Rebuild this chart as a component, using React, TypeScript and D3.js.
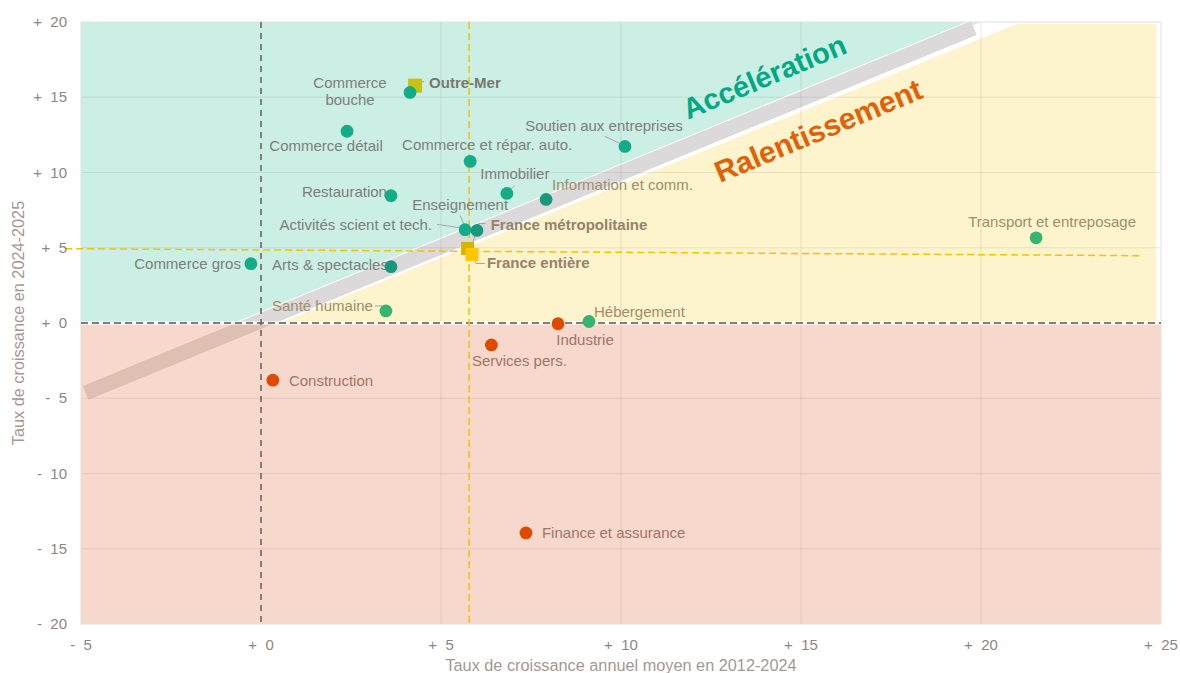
import React from 'react';
import * as d3 from 'd3';

const W = 1180;
const H = 673;

const xTicks = [-5, 0, 5, 10, 15, 20, 25];
const yTicks = [-20, -15, -10, -5, 0, 5, 10, 15, 20];
const xGrid = [5, 10, 15, 20];
const yGrid = [-15, -10, -5, 5, 10, 15];

const sectors = [
  'Commerce bouche', 'Commerce détail', 'Commerce et répar. auto.', 'Soutien aux entreprises',
  'Restauration', 'Immobilier', 'Information et comm.', 'Enseignement',
  'Activités scient et tech.', 'Arts & spectacles', 'Commerce gros', 'Santé humaine',
  'Hébergement', 'Industrie', 'Services pers.', 'Construction',
  'Finance et assurance', 'Transport et entreposage',
];
const growth2012_2024 = [4.14, 2.39, 5.81, 10.11, 3.61, 6.83, 7.92, 5.67, 6.0, 3.61, -0.28, 3.47, 9.11, 8.25, 6.4, 0.33, 7.36, 21.53];
const growth2024_2025 = [15.32, 12.74, 10.74, 11.73, 8.46, 8.61, 8.21, 6.2, 6.15, 3.74, 3.94, 0.8, 0.1, -0.05, -1.46, -3.8, -13.95, 5.66];
const sectorGroup = ['acc', 'acc', 'acc', 'acc', 'acc', 'acc', 'dark', 'acc', 'dark', 'dark', 'acc', 'green', 'green', 'neg', 'neg', 'neg', 'neg', 'green'];

const aggregates = ['Outre-Mer', 'France métropolitaine', 'France entière'];
const aggX = [4.28, 5.74, 5.86];
const aggY = [15.77, 4.95, 4.55];

// reference lines (France entière)
const refX = 5.78;
const refLineX = [-5.44, 24.5];
const refLineY = [4.94, 4.47];

// diagonal band (equal growth) and region boundaries
const bandX = [-4.87, 19.8];
const bandY = [-4.64, 19.6];
const slowEdgeX = [0.53, 21.0];

const annotations = ['Accélération', 'Ralentissement'];
const annX = [11.86, 12.75];
const annY = [13.51, 9.3];

// label layout (pixel offsets from the marker)
type Lay = { dx: number; dy: number; a: 'start' | 'middle' | 'end'; lead?: number[][] };
const sectorLayout: Lay[] = [
  { dx: -60, dy: -4, a: 'middle' },
  { dx: -21, dy: 20, a: 'middle' },
  { dx: 17, dy: -11, a: 'middle' },
  { dx: -21, dy: -15, a: 'middle', lead: [[-20, -10], [-5, -3]] },
  { dx: -4, dy: 1, a: 'end' },
  { dx: 8, dy: -14, a: 'middle', lead: [[8, -8], [2, -2]] },
  { dx: 6, dy: -9, a: 'start' },
  { dx: -5, dy: -20, a: 'middle', lead: [[-5, -14], [0, -3]] },
  { dx: -45, dy: 0, a: 'end', lead: [[-40, -6], [-4, -1]] },
  { dx: -3, dy: 3, a: 'end' },
  { dx: -10, dy: 5, a: 'end' },
  { dx: -13, dy: 0, a: 'end', lead: [[-11, -5], [-3, -5], [0, -2]] },
  { dx: 5, dy: -4, a: 'start' },
  { dx: 27, dy: 21, a: 'middle' },
  { dx: 28, dy: 21, a: 'middle' },
  { dx: 16, dy: 6, a: 'start' },
  { dx: 16, dy: 5, a: 'start' },
  { dx: 16, dy: -11, a: 'middle' },
];
const aggLayout: Lay[] = [
  { dx: 14, dy: 2, a: 'start', lead: [[4, -4], [9, -4]] },
  { dx: 23, dy: -19, a: 'start', lead: [[18, -25], [11, -25], [4, -2]] },
  { dx: 15, dy: 13, a: 'start', lead: [[13, 9], [4, 9], [2, 3]] },
];

const dotColor: Record<string, string> = {
  acc: '#12ad88',
  dark: '#1a977a',
  green: '#35b56f',
  neg: '#e04a00',
};
const aggColor = ['#c9c112', '#d8b200', '#ffc800'];

const FONT = 'Liberation Sans, Arial, Helvetica, sans-serif';

export default function App() {
  const x = d3.scaleLinear().domain([-5, 25]).range([81, 1161]);
  const y = d3.scaleLinear().domain([-20, 20]).range([624, 22]);
  const [x0, x1] = x.domain();
  const [y0, y1] = y.domain();

  const poly = (pts: number[][]) => pts.map(([a, b]) => `${x(a)},${y(b)}`).join(' ');

  const tealPts = [[x0, 0], [0, 0], [y1, y1], [x0, y1]];
  const yellowPts = [[slowEdgeX[0], 0], [24.86, 0], [24.86, 19.87], [slowEdgeX[1], 19.87]];

  const labelColor = (px: number, py: number, bold = false) => {
    const dx = x.invert(px);
    const dy = y.invert(py);
    if (dy < 0) return '#a27565';
    if (dy > dx) return bold ? '#767970' : '#7d7f7a';
    return bold ? '#97826a' : '#a38d6d';
  };

  const angle = (Math.atan2(y(20) - y(0), x(20) - x(0)) * 180) / Math.PI;

  const tickFmt = (v: number) => (v < 0 ? '-' : '+') + '\u00a0\u00a0' + Math.abs(v);

  const renderLabel = (
    name: string, px: number, py: number, lay: Lay, bold: boolean, key: string,
  ) => {
    const tx = px + lay.dx;
    const ty = py + lay.dy;
    const lines = name === 'Commerce bouche' ? ['Commerce', 'bouche'] : [name];
    const w = lines[0].length * 7.5;
    const cx = lay.a === 'start' ? tx + w / 2 : lay.a === 'end' ? tx - w / 2 : tx;
    const col = labelColor(cx, ty - 5, bold);
    return (
      <g key={key}>
        {lay.lead && (
          <polyline
            points={lay.lead.map(([a, b]) => `${px + a},${py + b}`).join(' ')}
            fill="none"
            stroke="#a6a6a6"
            strokeWidth={1}
          />
        )}
        <text
          x={tx}
          y={ty}
          textAnchor={lay.a}
          fontSize={15}
          fontWeight={bold ? 'bold' : 'normal'}
          fill={col}
          fontFamily={FONT}
        >
          {lines.map((l, i) => (
            <tspan key={i} x={tx} dy={i === 0 ? 0 : 17}>{l}</tspan>
          ))}
        </text>
      </g>
    );
  };

  return (
    <svg
      width={W}
      height={H}
      style={{ position: 'absolute', left: 0, top: 0, display: 'block', background: '#fff' }}
      fontFamily={FONT}
    >
      {/* regions */}
      <polygon points={poly(tealPts)} fill="#cbeee5" />
      <polygon points={poly(yellowPts)} fill="#fdf3cc" />
      <line x1={x(bandX[0])} y1={y(bandY[0])} x2={x(bandX[1])} y2={y(bandY[1])}
        stroke="#ffffff" strokeWidth={17} />
      <line x1={x(bandX[0])} y1={y(bandY[0])} x2={x(bandX[1])} y2={y(bandY[1])}
        stroke="#dbd9d9" strokeWidth={15} />
      <rect x={x(x0)} y={y(0)} width={x(x1) - x(x0)} height={y(y0) - y(0)} fill="#e5926d" fillOpacity={0.35} />

      {/* grid */}
      {xGrid.map((v) => (
        <line key={'gx' + v} x1={x(v)} x2={x(v)} y1={y(y1)} y2={y(y0)} stroke="#7a6a60" strokeOpacity={0.14} />
      ))}
      {yGrid.map((v) => (
        <line key={'gy' + v} x1={x(x0)} x2={x(x1)} y1={y(v)} y2={y(v)} stroke="#7a6a60" strokeOpacity={0.14} />
      ))}
      <rect x={x(x0)} y={y(y1)} width={x(x1) - x(x0)} height={y(y0) - y(y1)} fill="none" stroke="#e4dfdd" />

      {/* zero lines */}
      <line x1={x(x0)} x2={x(x1)} y1={y(0)} y2={y(0)} stroke="#ffffff" strokeWidth={3} />
      <line x1={x(x0)} x2={x(x1)} y1={y(0)} y2={y(0)} stroke="#5d5352" strokeWidth={1.5} strokeDasharray="7,4" />
      <line x1={x(0)} x2={x(0)} y1={y(y1)} y2={y(y0)} stroke="#5d5352" strokeWidth={1.4} strokeDasharray="6,5" />

      {/* France entière reference lines */}
      <line x1={x(refX)} x2={x(refX)} y1={y(y1)} y2={y(y0)} stroke="#f2c300" strokeWidth={1.5} strokeDasharray="7,4" />
      <line x1={x(refLineX[0])} x2={x(refLineX[1])} y1={y(refLineY[0])} y2={y(refLineY[1])}
        stroke="#f2c300" strokeWidth={1.5} strokeDasharray="7,4" />

      {/* axes labels */}
      {yTicks.map((v) => (
        <text key={'ty' + v} x={67} y={y(v) + 5} textAnchor="end" fontSize={15} fill="#8f8582">
          {tickFmt(v)}
        </text>
      ))}
      {xTicks.map((v) => (
        <text key={'tx' + v} x={x(v)} y={650} textAnchor="middle" fontSize={15} fill="#8f8582">
          {tickFmt(v)}
        </text>
      ))}
      <text x={621} y={671} textAnchor="middle" fontSize={16.3} fill="#a69890">
        Taux de croissance annuel moyen en 2012-2024
      </text>
      <text transform={`translate(24,${(y(y0) + y(y1)) / 2}) rotate(-90)`} textAnchor="middle" fontSize={16.3} fill="#a69890">
        Taux de croissance en 2024-2025
      </text>

      {/* sector leaders + labels */}
      {sectors.map((s, i) =>
        renderLabel(s, x(growth2012_2024[i]), y(growth2024_2025[i]), sectorLayout[i], false, 's' + i),
      )}
      {aggregates.map((s, i) =>
        renderLabel(s, x(aggX[i]), y(aggY[i]), aggLayout[i], true, 'a' + i),
      )}

      {/* aggregate squares */}
      {aggregates.map((s, i) => {
        const size = i === 0 ? 14 : 13;
        return (
          <rect key={'sq' + i} x={x(aggX[i]) - size / 2} y={y(aggY[i]) - size / 2}
            width={size} height={size} fill={aggColor[i]} />
        );
      })}

      {/* sector dots */}
      {sectors.map((s, i) => (
        <circle key={'d' + i} cx={x(growth2012_2024[i])} cy={y(growth2024_2025[i])} r={6.4}
          fill={dotColor[sectorGroup[i]]} />
      ))}

      {/* annotations */}
      {annotations.map((a, i) => (
        <text key={'an' + i}
          transform={`translate(${x(annX[i])},${y(annY[i])}) rotate(${angle})`}
          fontSize={i === 0 ? 29 : 30}
          fontWeight="bold"
          fill={i === 0 ? '#00a984' : '#e06106'}
        >
          {a}
        </text>
      ))}
    </svg>
  );
}
